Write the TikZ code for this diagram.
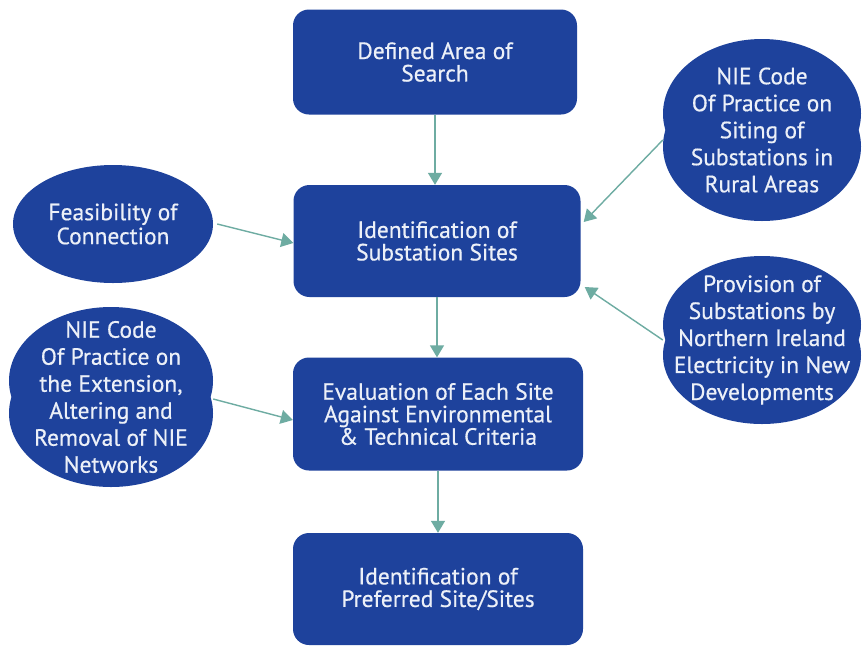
\documentclass[tikz,border=0pt]{standalone}
\usepackage{fontspec}
\setmainfont{PT Sans}[FakeBold=0.5]
\usetikzlibrary{arrows.meta,shapes.geometric}
\definecolor{boxblue}{RGB}{30,66,156}
\definecolor{txtwhite}{RGB}{236,240,248}
\definecolor{arrowteal}{RGB}{110,172,162}
\newcommand\mkblob[6]{%
  \pgfmathsetmacro\bry{0.5*#5/1.22}%
  \pgfmathsetmacro\bd{0.5*#5-\bry}%
  \pgfmathsetmacro\brx{#4/2}%
  \fill[boxblue] (#2,#3-\bd) ellipse [x radius=\brx pt, y radius=\bry pt];
  \fill[boxblue] (#2,#3+\bd) ellipse [x radius=\brx pt, y radius=\bry pt];
  \node[blobshape, minimum width=#4pt, minimum height=#5pt] (#1) at (#2,#3) {};
  \node[blobtext] at (#1.center) {#6};
}
\begin{document}
\begin{tikzpicture}[x=1pt,y=-1pt,
  stepbox/.style={fill=boxblue, rounded corners=16pt, text=txtwhite, align=center,
    font=\fontsize{23.5}{22.5}\selectfont, inner sep=0pt},
  blobshape/.style={ellipse, inner sep=0pt},
  blobtext/.style={inner sep=0pt, text=txtwhite, align=center,
    font=\fontsize{23.5}{27}\selectfont},
  conn/.style={draw=arrowteal, line width=1.4pt,
    -{Triangle[width=14pt,length=12pt]}, fill=arrowteal}]
\useasboundingbox (0,0) rectangle (862,649);
\fill[white] (0,0) rectangle (862,649);

\node[stepbox, minimum width=284pt, minimum height=105pt] (b1) at (435,62) {Defined Area of\\Search};
\node[stepbox, minimum width=287pt, minimum height=112pt] (b2) at (437,241) {Identification of\\Substation Sites};
\node[stepbox, minimum width=290pt, minimum height=113pt] (b3) at (438,414) {Evaluation of Each Site\\Against Environmental\\\& Technical Criteria};
\node[stepbox, minimum width=290pt, minimum height=112pt] (b4) at (438,589) {Identification of\\Preferred Site/Sites};

\node[blobshape, fill=boxblue, minimum width=200pt, minimum height=118pt] (feas) at (113,224) {};
\node[blobtext, font=\fontsize{23.5}{24}\selectfont] at (feas.center) {Feasibility of\\Connection};
\mkblob{ext}{111}{397}{204}{180}{NIE Code\\Of Practice on\\the Extension,\\Altering and\\Removal of NIE\\Networks}
\mkblob{siting}{762}{130}{198}{182}{NIE Code\\Of Practice on\\Siting of\\Substations in\\Rural Areas}
\mkblob{prov}{762}{340}{198}{168}{Provision of\\Substations by\\Northern Ireland\\Electricity in New\\Developments}

\draw[conn] (b1.south) -- (b1.south |- b2.north);
\draw[conn] (b2.south) -- (b2.south |- b3.north);
\draw[conn] (b3.south) -- (b3.south |- b4.north);
\draw[conn] ([shift={(4pt,0pt)}]feas.east) -- ([yshift=-2pt]b2.west);
\draw[conn] ([yshift=-2pt]ext.east) -- ([yshift=-6pt]b3.west);
\draw[conn] ([yshift=-10pt]siting.west) -- ([shift={(3pt,19pt)}]b2.east);
\draw[conn] (prov.west) -- ([shift={(4pt,-46pt)}]b2.east);
\end{tikzpicture}
\end{document}
